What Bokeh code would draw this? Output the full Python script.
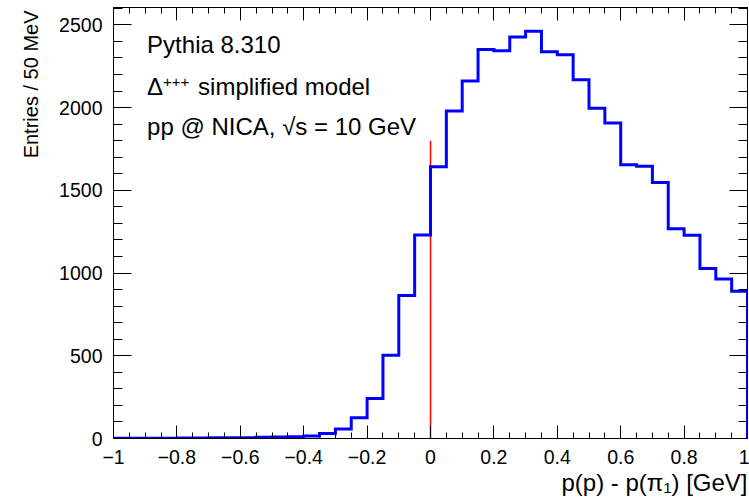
import numpy as np
from bokeh.plotting import figure
from bokeh.models import (LinearAxis, CustomJSTickFormatter, Label, Range1d,
                          SingleIntervalTicker, Title)
from bokeh.embed import file_html
from bokeh.resources import INLINE

# ---- data -------------------------------------------------------------
bin_low = -1.0
bin_width = 0.05
counts = [1, 1, 2, 2, 3, 3, 4, 4, 5, 8,
          9, 10, 15, 30, 58, 125, 242, 503, 865, 1230,
          1643, 1980, 2161, 2351, 2343, 2427, 2462, 2337, 2320, 2169,
          1996, 1907, 1655, 1646, 1547, 1268, 1228, 1027, 964, 890]
cut_x = [0.0]
cut_top = [1800]
x_ticks = [-1, -0.8, -0.6, -0.4, -0.2, 0, 0.2, 0.4, 0.6, 0.8, 1]
y_ticks = [0, 500, 1000, 1500, 2000, 2500]
info_lines = ["Pythia 8.310", "simplified model", "pp @ NICA, \u221as = 10 GeV"]
x_title = "p(p) - p(\u03c0\u2081) [GeV]"
y_title = "Entries / 50 MeV"

FONT = "Liberation Sans"
X_MIN, X_MAX, Y_MAX = -1, 1, 2605

edges = bin_low + bin_width * np.arange(len(counts) + 1)
xs = np.repeat(edges, 2)
ys = np.concatenate([[0], np.repeat(counts, 2), [0]])

p = figure(width=749, height=503, x_range=Range1d(X_MIN, X_MAX), y_range=Range1d(0, Y_MAX),
           output_backend="svg", toolbar_location=None,
           min_border_left=113, min_border_right=2, min_border_top=7,
           min_border_bottom=65)
p.grid.visible = False
p.background_fill_color = "white"
p.border_fill_color = "white"
p.outline_line_color = "black"
p.outline_line_width = 1

fmt = CustomJSTickFormatter(code="""
let s;
if (Math.abs(tick) < 1e-9) { s = '0'; }
else if (Math.abs(Math.abs(tick) - Math.round(Math.abs(tick))) < 1e-9) { s = String(Math.round(tick)); }
else { s = tick.toFixed(1); }
return s.replace('-', '\\u2212');
""")
blank = CustomJSTickFormatter(code="return '';")

xt = SingleIntervalTicker(interval=x_ticks[1] - x_ticks[0], num_minor_ticks=4)
yt = SingleIntervalTicker(interval=y_ticks[1] - y_ticks[0], num_minor_ticks=5)


def style(ax, horizontal, labels=True):
    ax.axis_line_color = "black"
    ax.major_tick_line_color = "black"
    ax.minor_tick_line_color = "black"
    ax.major_tick_out = 0
    ax.minor_tick_out = 0
    if horizontal:
        ax.major_tick_in = 13
        ax.minor_tick_in = 6
    else:
        ax.major_tick_in = 18
        ax.minor_tick_in = 9
    if labels:
        ax.major_label_text_font = FONT
        ax.major_label_text_font_size = "19.5px"
        ax.major_label_text_color = "black"
        ax.major_label_standoff = 11
    else:
        ax.formatter = blank
        ax.major_label_standoff = 0


xa = p.xaxis[0]
xa.ticker = xt
xa.formatter = fmt
style(xa, True)

ya = p.yaxis[0]
ya.ticker = yt
style(ya, False)

top = LinearAxis(ticker=xt)
style(top, True, labels=False)
p.add_layout(top, "above")
right = LinearAxis(ticker=yt)
style(right, False, labels=False)
p.add_layout(right, "right")

# axis titles (right / top aligned, ROOT style)
p.add_layout(Title(text=x_title, align="right", text_font=FONT, text_font_size="24px",
                   text_font_style="normal", text_color="black", standoff=0), "below")
p.add_layout(Title(text=y_title, align="right", text_font=FONT, text_font_size="20px",
                   text_font_style="normal", text_color="black", standoff=29, offset=3),
             "left")

# cut line
p.segment(x0=cut_x, y0=[0], x1=cut_x, y1=cut_top, line_color="#ff0000", line_width=1.5)
# histogram outline
p.line(xs, ys, line_color="#0000ff", line_width=3, line_join="miter")

tx = -0.894
p.add_layout(Label(x=tx, y=2302, text=info_lines[0], text_font=FONT,
                   text_font_size="24px", text_color="black"))
p.add_layout(Label(x=tx, y=2043, text="\u0394", text_font=FONT,
                   text_font_size="24px", text_color="black"))
p.add_layout(Label(x=tx, y=2043, x_offset=16, y_offset=13, text="+++", text_font=FONT,
                   text_font_size="15px", text_color="black"))
p.add_layout(Label(x=tx, y=2043, x_offset=51, text=info_lines[1], text_font=FONT,
                   text_font_size="24px", text_color="black"))
p.add_layout(Label(x=tx, y=1803, text=info_lines[2], text_font=FONT,
                   text_font_size="24px", text_color="black"))

open("out.html", "w").write(file_html(p, INLINE))
